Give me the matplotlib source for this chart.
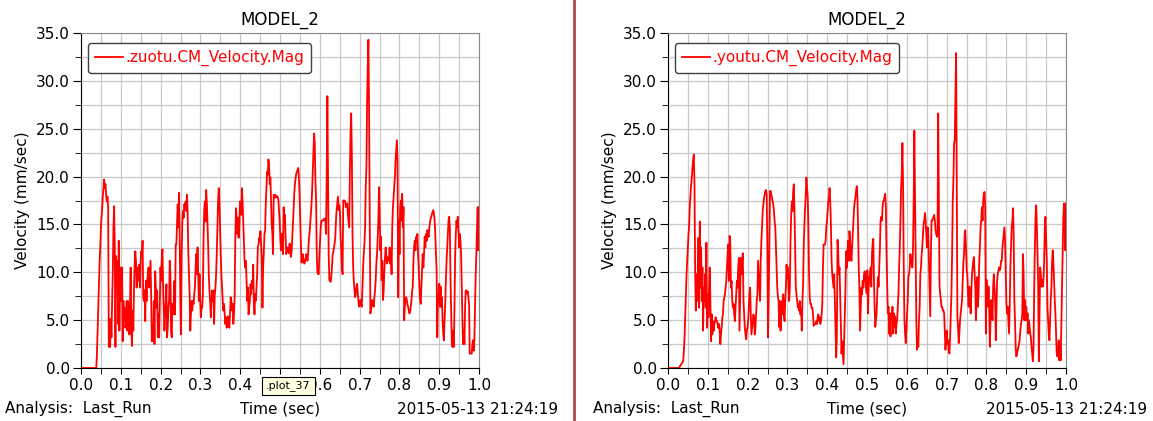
import numpy as np
import matplotlib
matplotlib.use('Agg')
import matplotlib.pyplot as plt
from matplotlib.lines import Line2D
from matplotlib.ticker import MultipleLocator, FuncFormatter

plt.rcParams['font.family'] = ['DejaVu Sans']

# 速度数据, 采样间隔 1/600 s, 0 ~ 1.0 s
zuotu_vel = [0.0] * 24 + [
    1.3, 3.7, 6.3, 8.75, 10.9, 12.5, 14.6, 15.8, 16.7, 18.0,
    18.8, 19.7, 18.8, 19.2, 18.0, 17.4, 17.9, 16.7, 2.2, 5.1,
    2.2, 5.1, 3.2, 7.0, 10.0, 14.6, 16.9, 12.6, 2.2, 11.7,
    8.4, 11.2, 4.6, 13.3, 3.9, 10.5, 8.4, 7.0, 10.5, 2.8,
    7.0, 4.9, 6.3, 4.2, 4.9, 7.0, 3.9, 7.0, 5.6, 3.5,
    6.7, 10.5, 3.9, 2.3, 6.0, 3.9, 8.4, 10.8, 12.2, 11.2,
    8.4, 10.5, 9.1, 9.8, 10.8, 8.4, 11.2, 12.2, 11.9, 13.3,
    7.4, 7.0, 8.1, 4.9, 9.1, 7.0, 9.1, 9.8, 10.5, 8.4,
    9.8, 11.2, 7.4, 2.8, 3.5, 2.8, 7.0, 2.5, 10.1, 8.4,
    6.3, 8.1, 3.2, 5.6, 3.2, 7.0, 10.5, 9.1, 11.5, 12.4,
    8.4, 6.3, 3.9, 5.6, 7.0, 8.75, 3.2, 4.2, 6.3, 7.0,
    11.2, 9.8, 3.9, 3.2, 6.7, 5.6, 7.0, 9.1, 5.6, 12.9,
    12.9, 15.0, 17.1, 14.7, 18.3, 14.0, 6.7, 3.5, 11.9, 15.3,
    16.4, 15.7, 17.1, 16.7, 17.4, 16.4, 18.1, 16.4, 12.2, 9.8,
    7.7, 3.9, 5.6, 7.0, 6.0, 7.0, 6.7, 7.7, 8.4, 10.5,
    11.9, 9.8, 12.6, 9.8, 7.0, 9.8, 7.0, 5.3, 6.3, 6.3,
    7.7, 13.3, 16.4, 17.4, 15.3, 18.6, 17.4, 15.3, 12.9, 9.8,
    8.1, 7.0, 5.3, 7.0, 8.1, 7.0, 8.1, 4.6, 7.7, 8.4,
    9.8, 11.9, 14.7, 17.4, 18.8, 17.4, 14.7, 11.9, 9.8, 8.4,
    7.0, 6.0, 6.7, 5.6, 4.6, 5.3, 4.2, 4.9, 5.4, 4.6,
    4.2, 5.6, 7.4, 7.0, 6.0, 6.7, 4.6, 5.6, 7.4, 13.6,
    16.7, 15.7, 14.0, 15.7, 13.6, 14.7, 17.4, 16.4, 16.0, 18.8,
    17.4, 15.3, 13.3, 11.2, 10.5, 11.2, 9.1, 7.0, 8.4, 5.6,
    6.3, 7.0, 8.75, 7.7, 9.1, 8.4, 10.8, 7.0, 5.6, 7.7,
    7.0, 8.4, 9.8, 12.6, 12.9, 13.6, 13.3, 14.3, 12.9, 11.5,
    6.3, 10.5, 11.9, 14.0, 14.3, 17.1, 18.8, 20.5, 20.2, 21.8,
    21.2, 19.2, 19.9, 17.4, 15.0, 14.0, 11.9, 18.1, 17.8, 18.1,
    17.8, 18.0, 17.9, 17.9, 17.6, 16.5,
    15.4, 13.5, 12.3, 14.0, 13.5, 11.9, 16.8, 15.0, 16.0, 13.5,
    11.9, 12.3, 12.6, 12.3, 12.0, 13.0, 12.0, 11.6, 12.1, 13.5,
    14.7, 16.5, 18.2, 19.2, 19.8, 20.3, 20.5, 20.7, 20.9, 20.0,
    18.2, 15.4, 13.0, 11.0, 11.4, 11.9, 11.2, 10.9, 11.0, 11.4,
    11.9, 11.5, 11.2, 12.0, 13.3, 14.0, 15.0, 16.1, 17.0, 18.5,
    20.7, 22.6, 24.5, 23.5, 19.5, 17.5, 11.9, 10.0, 9.8, 9.8,
    11.9, 13.3, 14.7, 15.4, 15.4, 15.4, 15.4, 15.6, 15.6, 15.4,
    14.0, 20.0, 28.4, 20.7, 11.9, 9.2, 9.1, 9.0, 9.6, 10.5,
    11.9, 12.1, 12.6, 13.0, 13.7, 15.4, 16.5, 17.2, 17.9, 16.5,
    17.0, 16.3, 13.7, 12.3, 10.5, 9.8, 17.5, 17.5, 17.5, 17.4,
    16.8, 17.0, 17.2, 16.0, 15.4, 14.7, 20.3, 24.5, 26.6, 22.4,
    14.0, 10.5, 9.0, 8.1, 7.4, 7.8, 8.5, 8.8, 7.8, 7.0,
    6.4, 6.8, 7.1, 6.6, 6.4, 8.5, 10.5, 11.9, 13.0, 14.7,
    19.0, 21.0, 27.7, 31.5, 34.3, 27.3, 15.4, 5.7, 6.2, 6.5,
    7.1, 6.8, 6.4, 7.4, 8.1, 9.2, 10.9, 11.9, 13.5, 15.4,
    18.9, 16.1, 12.3, 13.7, 9.2, 11.2, 7.1, 8.0, 10.0, 11.5,
    12.6, 11.9, 10.9, 11.5, 11.6, 11.2, 12.6, 10.9, 11.9, 9.8,
    14.7, 16.8, 17.8, 19.0, 19.9, 21.7, 22.8, 23.8, 21.7, 7.4,
    15.4, 11.9, 16.8, 17.5, 15.4, 18.2, 14.7, 16.8, 5.0, 6.4,
    7.2, 7.4, 7.1, 6.6, 6.4, 6.0, 5.7, 5.9, 6.4, 7.1,
    8.0, 8.5, 11.2, 12.6, 13.3, 12.3, 13.7, 13.3, 14.0, 11.9,
    10.5, 8.5, 7.1, 6.7, 8.5, 10.2, 11.9, 10.5, 11.9, 13.7,
    12.6, 14.0, 13.3, 14.4, 14.0, 13.7, 14.7, 15.2, 15.6, 15.8,
    16.1, 16.3, 16.5, 16.1, 15.4, 14.0, 11.9, 10.2, 3.2, 7.1,
    7.4, 8.8, 6.4, 8.5, 6.4, 7.4, 5.0, 3.6, 2.9, 5.0,
    6.7, 9.2, 11.2, 12.6, 14.0, 15.4, 15.8, 14.7, 9.2, 5.7,
    2.5, 2.2, 3.9, 2.2, 6.4, 11.9, 14.0, 15.4, 14.7, 15.8,
    14.4, 12.6, 14.0, 13.3, 11.9, 8.5, 5.0, 2.5, 3.9, 2.5,
    6.4, 8.1, 8.1, 7.8, 8.0, 7.4, 6.7, 1.5, 1.5, 1.5,
    1.5, 2.5, 2.9, 1.8, 2.9, 6.4, 9.8, 11.9, 14.7, 16.8,
    12.3, 16.8,
]

youtu_vel = [0.0] * 18 + [
    0.2, 0.3, 0.4, 0.5, 0.6, 0.8, 1.8, 3.2, 5.5, 8.0,
    9.8, 11.2, 12.6, 14.0, 15.0, 17.1, 18.2, 19.2, 20.0, 21.0,
    21.8, 22.3, 19.2, 10.1, 6.0, 9.8, 7.0, 9.1, 13.6, 6.3,
    15.3, 8.4, 12.6, 7.0, 10.5, 3.9, 8.4, 7.0, 9.8, 6.3,
    13.1, 4.2, 7.7, 5.3, 8.4, 10.5, 7.0, 2.8, 5.6, 3.5,
    4.9, 3.9, 4.6, 4.9, 5.3, 4.9, 4.9, 4.6, 4.2, 4.6,
    3.9, 2.5, 3.5, 4.2, 5.3, 5.6, 7.0, 7.4, 7.7, 8.4,
    9.1, 10.5, 11.9, 12.9, 9.1, 13.8, 13.3, 8.4, 9.1, 7.0,
    6.3, 6.7, 5.6, 4.9, 6.3, 7.7, 9.1, 8.4, 10.5, 11.5,
    3.9, 7.7, 11.5, 9.8, 11.2, 12.0, 7.0, 5.6, 4.2, 3.5,
    3.0, 3.9, 4.2, 4.9, 6.3, 7.7, 8.4, 5.6, 3.5, 4.2,
    4.9, 5.6, 5.3, 3.5, 4.2, 5.6, 7.0, 7.7, 11.2, 9.8,
    8.4, 7.0, 11.2, 13.3, 14.7, 16.4, 17.1, 17.8, 18.1, 18.5,
    18.6, 18.1, 12.9, 3.2, 7.0, 12.2, 18.5, 18.5, 18.1, 17.8,
    17.4, 17.1, 16.4, 15.3, 14.7, 12.6, 10.5, 8.4, 7.4, 7.0,
    4.3, 7.0, 3.9, 6.3, 7.0, 5.6, 7.7, 5.6, 4.9, 7.0,
    8.4, 10.8, 9.4, 10.5, 8.4, 7.0, 8.4, 13.3, 16.0, 17.4,
    16.4, 18.5, 19.2, 16.4, 12.6, 8.4, 7.7, 7.0, 6.3, 6.7,
    6.0, 7.0, 5.6, 6.3, 3.9, 7.0, 8.75, 12.9, 15.0, 16.7,
    18.1, 19.9, 18.8, 17.8, 14.7, 9.8, 7.4, 6.7, 6.7, 6.3,
    6.3, 5.6, 4.4, 4.6, 4.6, 4.6, 4.9, 4.6, 5.3, 5.6,
    4.9, 5.3, 4.6, 4.9, 5.6, 6.7, 10.5, 12.9, 12.9, 12.9,
    13.3, 14.7, 15.3, 16.4, 17.4, 17.8, 18.8, 17.4, 15.0, 11.2,
    9.8, 9.1, 8.4, 9.8, 7.0, 4.2, 1.1, 3.5, 13.4, 12.2,
    9.8, 10.5, 7.7, 4.6, 1.5, 2.8, 1.5, 0.4, 2.8, 5.6,
    8.4, 12.2, 10.5, 12.2, 13.3, 11.2, 14.3, 13.3, 11.9, 11.2,
    12.6, 14.0, 15.3, 16.7, 17.4, 17.8, 18.5, 19.0, 18.1, 14.7,
    10.5, 8.4, 3.9, 6.3, 8.4, 7.7, 9.1, 8.4, 9.8, 10.1,
    9.4, 8.4,
    7.8, 10.2, 5.7, 8.5, 9.5, 9.8, 10.5, 8.5, 11.9, 13.0,
    13.5, 9.2, 6.4, 4.3, 5.0, 5.7, 7.8, 9.5, 8.5, 10.5,
    12.6, 15.4, 15.8, 15.4, 16.8, 17.4, 17.5, 17.9, 18.2, 16.8,
    11.9, 8.5, 5.7, 6.4, 3.6, 5.7, 3.3, 5.7, 5.0, 6.4,
    3.6, 5.7, 4.3, 5.4, 3.6, 4.6, 5.0, 6.4, 7.8, 10.5,
    12.6, 15.4, 18.9, 20.3, 23.5, 18.9, 10.5, 5.0, 3.6, 2.6,
    4.0, 5.7, 7.1, 9.5, 9.8, 10.5, 11.9, 11.2, 10.9, 10.5,
    12.6, 17.5, 24.8, 18.2, 10.5, 5.0, 1.9, 2.9, 2.2, 5.0,
    6.4, 9.8, 10.5, 11.9, 12.6, 14.0, 15.1, 15.4, 16.2, 15.4,
    14.0, 12.6, 14.7, 14.0, 11.2, 8.5, 5.4, 11.9, 15.4, 15.4,
    15.6, 15.8, 16.0, 15.4, 14.4, 14.0, 13.7, 14.0, 26.6, 17.5,
    8.5, 7.8, 7.1, 6.4, 6.4, 6.0, 6.0, 5.7, 3.9, 1.9,
    3.2, 3.9, 2.5, 2.9, 1.9, 1.5, 3.2, 5.7, 7.8, 11.9,
    17.5, 19.6, 23.5, 23.8, 28.7, 32.9, 20.3, 5.4, 4.3, 2.6,
    3.6, 5.0, 5.7, 6.4, 7.1, 9.2, 11.0, 11.9, 14.0, 14.4,
    12.6, 10.2, 9.8, 7.8, 6.4, 8.5, 7.4, 5.7, 7.8, 9.8,
    10.5, 11.2, 11.6, 9.8, 8.5, 5.0, 7.4, 9.5, 6.4, 7.8,
    11.2, 12.6, 14.7, 15.4, 16.8, 15.4, 17.5, 18.2, 18.4, 16.8,
    3.6, 9.2, 7.1, 6.4, 8.5, 6.4, 2.2, 5.0, 7.1, 6.4,
    5.0, 8.5, 9.8, 8.5, 7.1, 2.9, 6.0, 9.2, 9.8, 10.2,
    10.5, 10.2, 10.5, 11.2, 11.2, 12.6, 13.3, 14.0, 14.7, 13.3,
    9.8, 6.7, 5.7, 6.4, 5.0, 3.6, 6.4, 10.5, 12.6, 14.7,
    15.4, 16.7, 14.0, 7.1, 5.0, 2.2, 1.2, 1.5, 1.8, 2.2,
    2.5, 2.9, 3.9, 4.6, 5.0, 5.7, 11.9, 9.8, 5.0, 7.1,
    5.0, 6.4, 5.0, 5.7, 3.6, 5.0, 4.3, 3.6, 3.2, 2.2,
    1.5, 0.7, 2.2, 8.5, 12.6, 15.8, 17.0, 14.7, 11.9, 8.5,
    0.7, 5.7, 10.5, 9.8, 8.5, 9.2, 8.5, 9.2, 11.2, 14.7,
    15.8, 13.3, 11.2, 6.4, 5.0, 3.6, 2.9, 5.0, 7.1, 8.5,
    11.2, 12.3, 10.9, 9.2, 7.1, 5.7, 3.6, 1.5, 1.2, 1.5,
    2.9, 0.8, 2.5, 0.8, 5.0, 8.5, 11.9, 15.8, 17.2, 15.4,
    12.3, 17.2,
]

panels = [
    ('.zuotu.CM_Velocity.Mag', zuotu_vel),
    ('.youtu.CM_Velocity.Mag', youtu_vel),
]
run_name = 'Last_Run'
run_date = '2015-05-13 21:24:19'
tooltip = '.plot_37'

W, H = 1153, 421
fig = plt.figure(figsize=(W / 100, H / 100), dpi=100)
fig.patch.set_facecolor('white')

ax_left_px = [81, 668]
ax_w_px = 398
ax_top_px, ax_bot_px = 33, 368


def tick_fmt(hidden):
    # 提示框遮住的刻度标签不画
    def f(v, pos):
        if hidden is not None and abs(v - hidden) < 1e-6:
            return ''
        return '%.1f' % v
    return FuncFormatter(f)


for i, (name, vel) in enumerate(panels):
    x0 = ax_left_px[i]
    ax = fig.add_axes([x0 / W, (H - ax_bot_px) / H, ax_w_px / W,
                       (ax_bot_px - ax_top_px) / H])
    t = np.linspace(0.0, 1.0, len(vel))
    ax.plot(t, vel, color='red', lw=1.3, label=name, zorder=3)

    ax.set_xlim(0, 1)
    ax.set_ylim(0, 35)
    ax.xaxis.set_major_locator(MultipleLocator(0.1))
    ax.xaxis.set_minor_locator(MultipleLocator(0.05))
    ax.yaxis.set_major_locator(MultipleLocator(5))
    ax.yaxis.set_minor_locator(MultipleLocator(2.5))
    ax.xaxis.set_major_formatter(tick_fmt(0.5 if i == 0 else None))
    ax.yaxis.set_major_formatter(tick_fmt(None))
    ax.grid(True, which='both', color='#c8c8c8', lw=0.9, zorder=0)
    ax.set_axisbelow(True)
    ax.tick_params(axis='both', which='both', direction='out', labelsize=11,
                   color='black')
    ax.tick_params(axis='x', which='both', length=4, pad=3)
    ax.tick_params(axis='y', which='major', length=6, pad=2)
    ax.tick_params(axis='y', which='minor', length=4)
    for s in ['left', 'bottom']:
        ax.spines[s].set_color('black')
    for s in ['top', 'right']:
        ax.spines[s].set_color('#8a8a8a')

    ax.set_title('MODEL_2', fontsize=12, pad=6)
    ax.set_ylabel('Velocity (mm/sec)', fontsize=11, labelpad=4)

    leg = ax.legend(loc='upper left', bbox_to_anchor=(7 / ax_w_px, 1 - 10 / 335),
                    borderaxespad=0, fontsize=11, handlelength=1.85,
                    handletextpad=0.15, borderpad=0.45, fancybox=True,
                    framealpha=1, edgecolor='#404040')
    leg.get_frame().set_linewidth(1.0)
    for txt in leg.get_texts():
        txt.set_color('red')

    # 底部信息栏
    row_y = (H - 409) / H
    base = 5 if i == 0 else 593
    fig.text(base / W, row_y, 'Analysis:  ' + run_name, fontsize=11,
             ha='left', va='center')
    fig.text((x0 + ax_w_px / 2) / W, row_y, 'Time (sec)', fontsize=11,
             ha='center', va='center')
    date_right = 558 if i == 0 else 1147
    fig.text(date_right / W, row_y, run_date, fontsize=11,
             ha='right', va='center')

# 提示框
fig.text(266 / W, (H - 386) / H, tooltip, fontsize=8, ha='left',
         va='center', zorder=10,
         bbox=dict(boxstyle='square,pad=0.35', facecolor='#ffffe1',
                   edgecolor='black', lw=0.8))

# 中间分隔线
fig.add_artist(Line2D([574 / W, 574 / W], [0, 1], color='#b04848', lw=2))

fig.savefig('out.png', dpi=100)
